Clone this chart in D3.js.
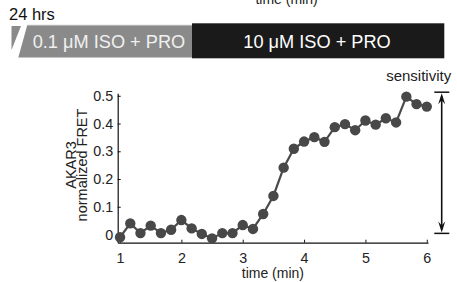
<!DOCTYPE html>
<html>
<head>
<meta charset="utf-8">
<script src="https://cdn.jsdelivr.net/npm/d3@7"></script>
<style>
  body { margin: 0; background: #fff; }
  text { font-family: "Liberation Sans", Arial, sans-serif; }
</style>
</head>
<body>
<div class="chart"></div>
<script>
// data
var times = [1, 1.167, 1.333, 1.5, 1.667, 1.833, 2, 2.167, 2.333, 2.5, 2.667, 2.833,
             3, 3.167, 3.333, 3.5, 3.667, 3.833, 4, 4.167, 4.333, 4.5, 4.667, 4.833,
             5, 5.167, 5.333, 5.5, 5.667, 5.833, 6];
var fret = [-0.01, 0.04, 0.005, 0.032, 0.005, 0.017, 0.052, 0.022, 0.002, -0.014, 0.005, 0.005,
            0.034, 0.02, 0.074, 0.139, 0.241, 0.309, 0.335, 0.351, 0.334, 0.387, 0.398, 0.376,
            0.411, 0.396, 0.419, 0.404, 0.497, 0.47, 0.461];
var xTicks = [1, 2, 3, 4, 5, 6];
var yTicks = [0, 0.1, 0.2, 0.3, 0.4, 0.5];
var yTickLabels = ["0", "0.1", "0.2", "0.3", "0.4", "0.5"];
var treatments = ["0.1 \u03bcM ISO + PRO", "10 \u03bcM ISO + PRO"];

var svgWidth = 457, svgHeight = 282;
var svg = d3.select(".chart").append("svg")
    .attr("width", svgWidth)
    .attr("height", svgHeight);

// scales
var xScale = d3.scaleLinear().domain([0.962, 6.02]).range([117.7, 428]);
var yScale = d3.scaleLinear().domain([-0.0296, 0.509]).range([242.7, 93.3]);

// top treatment bars (title of the panel above is cut off at the top edge)
svg.append("text")
    .attr("x", 286.5).attr("y", 4)
    .attr("text-anchor", "middle")
    .attr("font-size", 14).attr("fill", "#222")
    .text("time (min)");

svg.append("text")
    .attr("x", 9).attr("y", 19.5)
    .attr("font-size", 16.5).attr("fill", "#111")
    .text("24 hrs");

svg.append("path")
    .attr("d", "M11.5,26 L21,26 L11.5,50 Z")
    .attr("fill", "#8a8a8a");
svg.append("path")
    .attr("d", "M27.3,25 L192,25 L192,57.5 L18.3,57.5 Z")
    .attr("fill", "#8a8a8a");
svg.append("line")
    .attr("x1", 27).attr("x2", 192).attr("y1", 25.3).attr("y2", 25.3)
    .attr("stroke", "#bbb").attr("stroke-width", 1);
svg.append("rect")
    .attr("x", 192).attr("y", 23.3).attr("width", 252.3).attr("height", 35)
    .attr("fill", "#1a1a1a");

svg.append("text")
    .attr("x", 32.7).attr("y", 47.8)
    .attr("font-size", 18.2).attr("fill", "#f0f0f0")
    .text(treatments[0]);
svg.append("text")
    .attr("x", 243.3).attr("y", 47.8)
    .attr("font-size", 18.2).attr("fill", "#fff")
    .text(treatments[1]);

// axes
var bottomAxis = d3.axisBottom(xScale)
    .tickValues(xTicks)
    .tickFormat(d3.format("d"))
    .tickSizeInner(-3).tickSizeOuter(0)
    .tickPadding(10);
var leftAxis = d3.axisLeft(yScale)
    .tickValues(yTicks)
    .tickFormat((d, i) => yTickLabels[i])
    .tickSizeInner(-3).tickSizeOuter(0)
    .tickPadding(4.5);

var gx = svg.append("g")
    .attr("transform", "translate(0," + 242.7 + ")")
    .call(bottomAxis);
var gy = svg.append("g")
    .attr("transform", "translate(" + 117.7 + ",0)")
    .call(leftAxis);

[gx, gy].forEach(function (g) {
    g.select(".domain").attr("stroke", "#111").attr("stroke-width", 1.2);
    g.selectAll(".tick line").attr("stroke", "#111");
    g.selectAll(".tick text")
        .attr("font-size", 14.3).attr("fill", "#222")
        .attr("font-family", "Liberation Sans, Arial, sans-serif");
});

// axis labels
svg.append("text")
    .attr("x", 272.9).attr("y", 278)
    .attr("text-anchor", "middle")
    .attr("font-size", 14).attr("fill", "#222")
    .text("time (min)");

var yLabel = svg.append("text")
    .attr("transform", "translate(0,165) rotate(-90)")
    .attr("text-anchor", "middle")
    .attr("font-size", 14.5).attr("fill", "#222");
yLabel.append("tspan").attr("x", 0).attr("y", 75.5).text("AKAR3");
yLabel.append("tspan").attr("x", 0).attr("y", 87).text("normalized FRET");

// data line and points
var line = d3.line()
    .x(d => xScale(d[0]))
    .y(d => yScale(d[1]));
var points = times.map((t, i) => [t, fret[i]]);

svg.append("path")
    .datum(points)
    .attr("d", line)
    .attr("fill", "none")
    .attr("stroke", "#4a4a4a")
    .attr("stroke-width", 2.2);

svg.selectAll("circle.pt")
    .data(points)
    .enter()
    .append("circle")
    .attr("class", "pt")
    .attr("cx", d => xScale(d[0]))
    .attr("cy", d => yScale(d[1]))
    .attr("r", 5.2)
    .attr("fill", "#484848");

// sensitivity annotation
var ax = 441.7, yTop = yScale(0.513), yBot = yScale(0.004);
svg.append("line")
    .attr("x1", 434.3).attr("x2", 449.3).attr("y1", yTop).attr("y2", yTop)
    .attr("stroke", "#111").attr("stroke-width", 1.5);
svg.append("line")
    .attr("x1", 434.3).attr("x2", 449.3).attr("y1", yBot).attr("y2", yBot)
    .attr("stroke", "#111").attr("stroke-width", 1.5);
svg.append("line")
    .attr("x1", ax).attr("x2", ax).attr("y1", yTop + 4).attr("y2", yBot - 4)
    .attr("stroke", "#111").attr("stroke-width", 1.6);
svg.append("path")
    .attr("d", `M${ax},${yTop + 1} L${ax - 3.5},${yTop + 12} L${ax},${yTop + 8} L${ax + 3.5},${yTop + 12} Z`)
    .attr("fill", "#111");
svg.append("path")
    .attr("d", `M${ax},${yBot - 1} L${ax - 3.5},${yBot - 12} L${ax},${yBot - 8} L${ax + 3.5},${yBot - 12} Z`)
    .attr("fill", "#111");

svg.append("text")
    .attr("x", 418.7).attr("y", 81)
    .attr("text-anchor", "middle")
    .attr("font-size", 15).attr("fill", "#222")
    .text("sensitivity");
</script>
</body>
</html>
